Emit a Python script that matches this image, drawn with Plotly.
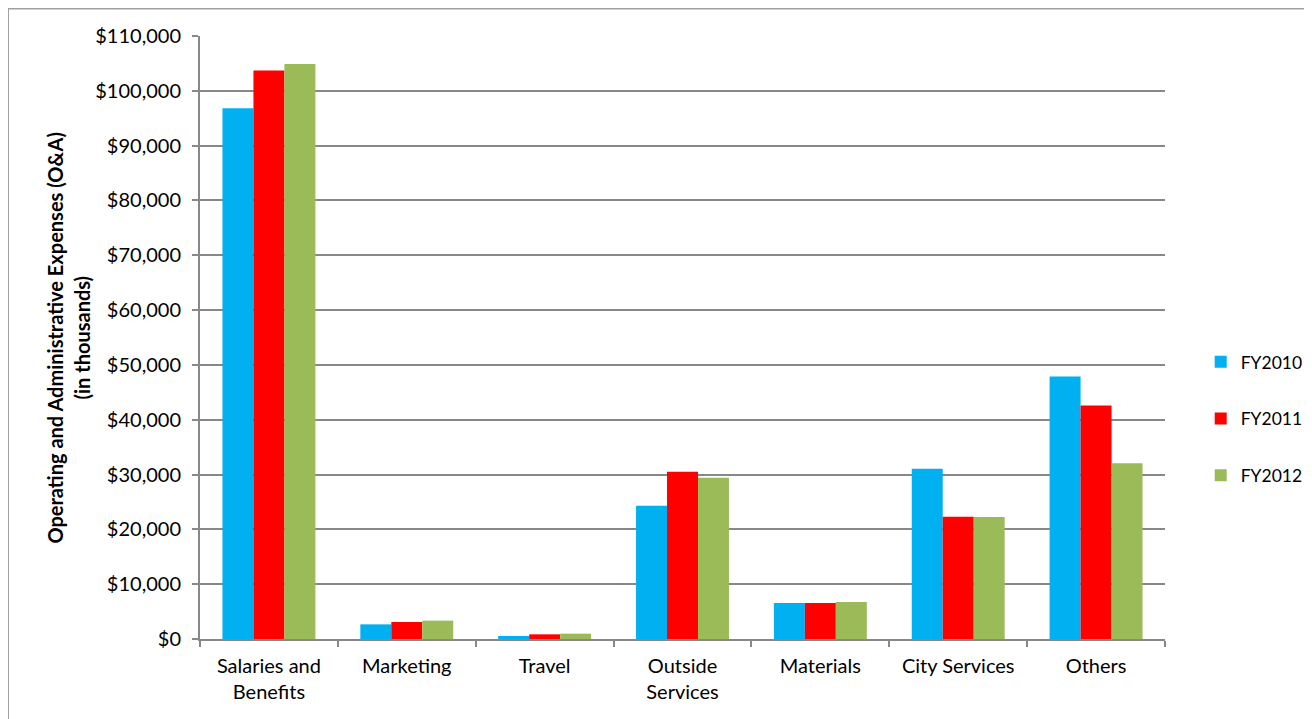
import plotly.graph_objects as go

categories = ["Salaries and<br>Benefits", "Marketing", "Travel", "Outside<br>Services",
              "Materials", "City Services", "Others"]
fy2010 = [96800, 2670, 550, 24300, 6570, 31050, 47900]
fy2011 = [103700, 3100, 850, 30500, 6570, 22300, 42600]
fy2012 = [104900, 3350, 970, 29400, 6750, 22250, 32050]
series_names = ["FY2010", "FY2011", "FY2012"]
colors = ["#00B0F0", "#FF0000", "#9BBB59"]
tick_vals = list(range(0, 110001, 10000))
tick_text = ["$0"] + ["${:,}".format(v) for v in tick_vals[1:]]
y_title_lines = ["Operating and Administrative Expenses (O&A)", "(in thousands)"]

FONT = "Lato, 'Open Sans', sans-serif"
W, H = 1304, 711
L, T, PW, PH = 192, 28, 965, 603

fig = go.Figure()
for name, vals, col in zip(series_names, [fy2010, fy2011, fy2012], colors):
    fig.add_trace(go.Bar(x=categories, y=vals, name=name, marker_color=col,
                         marker_line_width=0, legendgroup=name))

fig.update_layout(
    width=W, height=H,
    margin=dict(l=L, r=W - L - PW, t=T, b=H - T - PH, autoexpand=False),
    paper_bgcolor="white", plot_bgcolor="white",
    bargap=0.326, bargroupgap=0,
    font=dict(family=FONT, size=20, color="black"),
    legend=dict(x=1.037, y=0.365, xanchor="left", yanchor="middle",
                traceorder="grouped", tracegroupgap=31,
                font=dict(size=17.5), itemwidth=30),
    showlegend=True,
)
fig.update_xaxes(showline=True, linecolor="#888888", linewidth=2,
                 ticks="outside", tickson="boundaries", ticklen=6,
                 tickcolor="#888888", tickwidth=2, showgrid=False,
                 tickfont=dict(size=20), ticklabelstandoff=8)
fig.update_yaxes(range=[0, 110000], tickvals=tick_vals, ticktext=tick_text,
                 showgrid=True, gridcolor="#888888", gridwidth=2,
                 showline=True, linecolor="#888888", linewidth=2,
                 ticks="outside", ticklen=6, tickcolor="#888888", tickwidth=2,
                 zeroline=False, tickfont=dict(size=20), ticklabelstandoff=7)

# y-axis title as two rotated lines
for txt, px in zip(y_title_lines, [46, 73]):
    fig.add_annotation(text="<b>" + txt + "</b>", textangle=-90,
                       xref="paper", yref="paper", x=(px - L) / PW, y=0.5,
                       xanchor="center", yanchor="middle", showarrow=False,
                       font=dict(size=20, family=FONT, color="black"))

# outer chart frame
fig.add_shape(type="rect", xref="paper", yref="paper",
              x0=(0 - L) / PW, x1=(1330 - L) / PW,
              y0=(T + PH - 740) / PH, y1=(T + PH - 0.5) / PH,
              line=dict(color="#A0A0A0", width=2), fillcolor="rgba(0,0,0,0)", layer="below")

fig.write_html("out.html")
